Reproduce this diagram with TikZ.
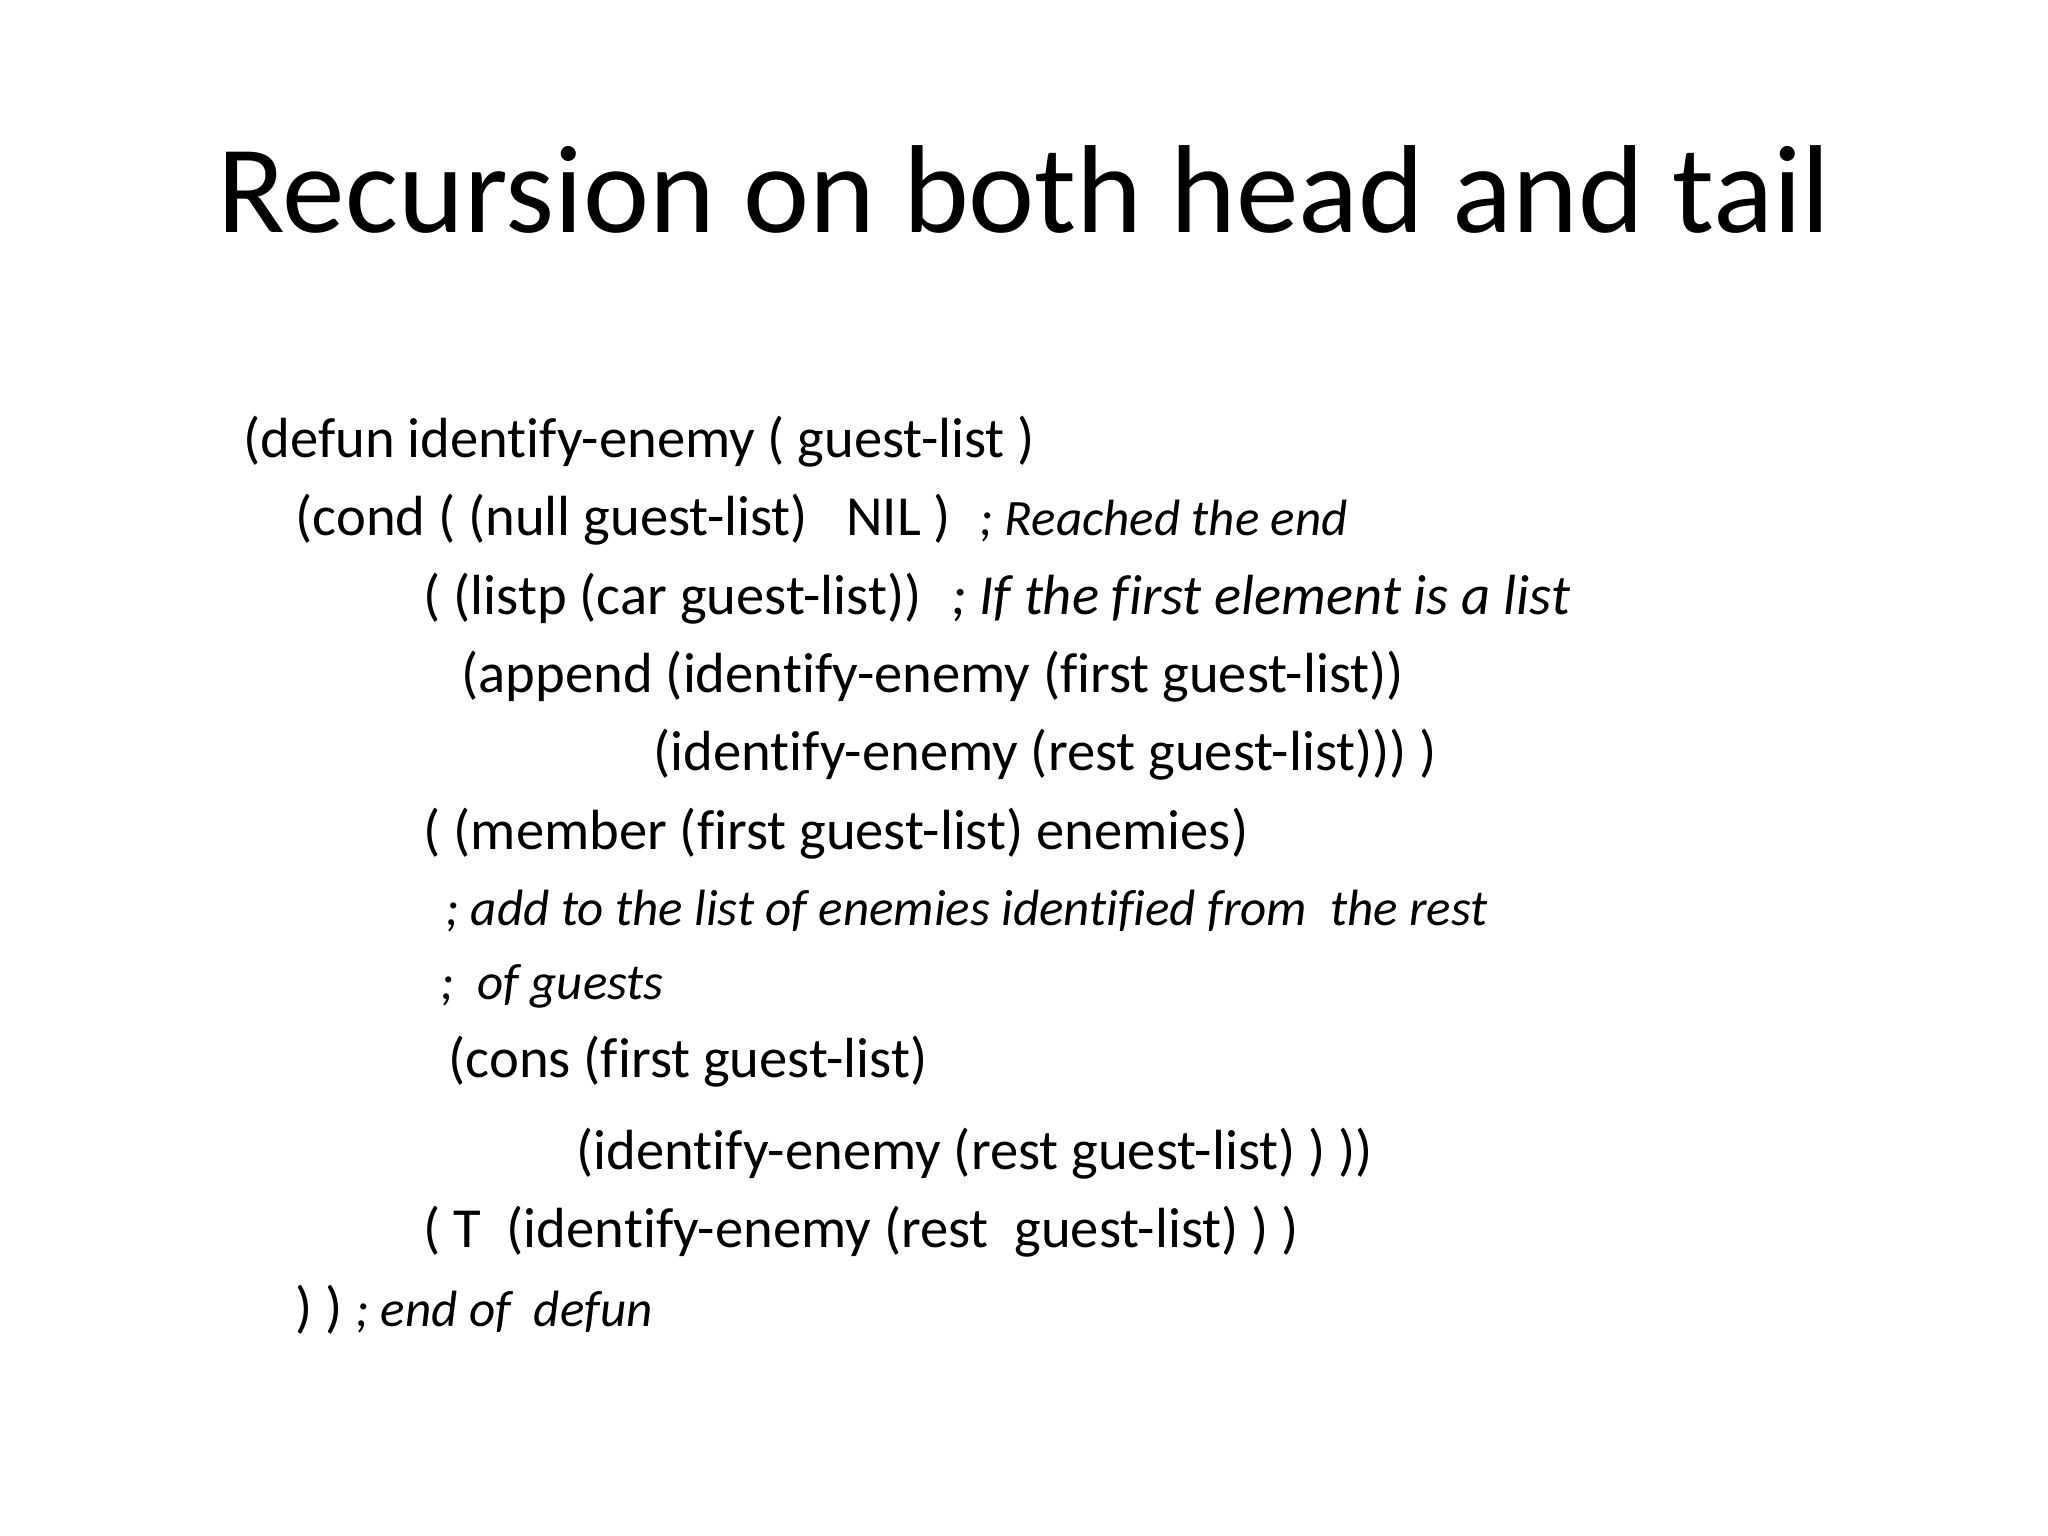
\documentclass[tikz,border=0pt]{standalone}
\usepackage{fontspec}
\setmainfont[Ligatures={NoCommon}]{Carlito}
\begin{document}
\begin{tikzpicture}[x=0.01cm,y=-0.01cm,
  code/.style={anchor=base west,inner sep=0pt,font=\fontsize{16.1}{18}\selectfont},
  cmt/.style={anchor=base west,inner sep=0pt,font=\fontsize{14.5}{16}\selectfont\itshape}]
\fill[white] (0,0) rectangle (2048,1536);
\node[anchor=base,inner sep=0pt,font=\fontsize{35.6}{40}\selectfont] (title) at (1024,232) {Recursion on both head and tail};
\node[code] (l1) at (243,457) {(defun identify-enemy ( guest-list )};
\node[code] (l2) at (295,535) {(cond ( (null guest-list) \ \ NIL )};
\node[cmt] (c2) at (979,535) {; Reached the end};
\node[cmt,font=\fontsize{16.1}{18}\selectfont\itshape] (c3) at (951,614) {; If the first element is a list};
\node[code] (l3) at (423,614) {( (listp (car guest-list))};
\node[code] (l4) at (461,692) {(append (identify-enemy (first guest-list))};
\node[code] (l5) at (653,770) {(identify-enemy (rest guest-list))) )};
\node[code] (l6) at (423,849) {( (member (first guest-list) enemies)};
\node[cmt] (l7) at (445,925) {; add to the list of enemies identified from \ the rest};
\node[cmt] (l8) at (440,999) {; \ of guests};
\node[code] (l9) at (448,1077) {(cons (first guest-list)};
\node[code] (l10) at (576,1169) {(identify-enemy (rest guest-list) ) ))};
\node[code] (l11) at (423,1247) {( T \ (identify-enemy (rest \ guest-list) ) )};
\node[code] (l12) at (295,1326) {) )};
\node[cmt] (c12) at (355,1326) {; end of \ defun};
\end{tikzpicture}
\end{document}
